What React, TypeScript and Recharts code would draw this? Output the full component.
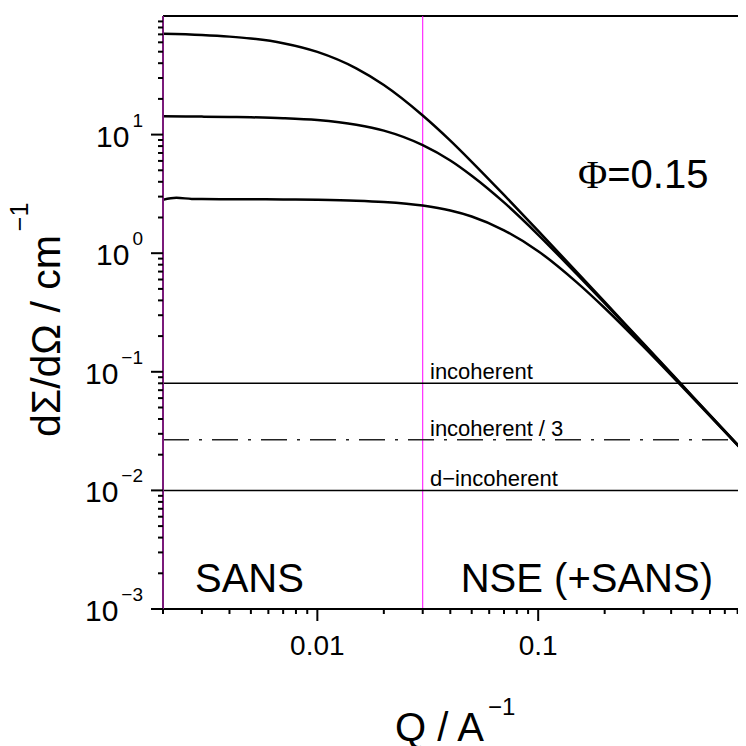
import React from 'react';
import { LineChart, Line, XAxis, YAxis, ReferenceLine } from 'recharts';

// values (Q in 1/A, intensity in 1/cm)
const phiLabel = 'Φ=0.15';

const curveHigh = [
  { q: 0.002, i: 70.7 }, { q: 0.003, i: 69.1 }, { q: 0.004, i: 67.0 },
  { q: 0.005, i: 64.6 }, { q: 0.007, i: 59.0 }, { q: 0.01, i: 49.8 },
  { q: 0.015, i: 36.2 }, { q: 0.02, i: 26.2 }, { q: 0.03, i: 14.5 },
  { q: 0.04, i: 8.9 }, { q: 0.05, i: 5.9 }, { q: 0.07, i: 3.1 },
  { q: 0.1, i: 1.54 }, { q: 0.15, i: 0.690 }, { q: 0.2, i: 0.388 },
  { q: 0.3, i: 0.173 }, { q: 0.5, i: 0.0622 }, { q: 0.873, i: 0.0204 },
];

const curveMid = [
  { q: 0.002, i: 14.25 }, { q: 0.003, i: 14.18 }, { q: 0.004, i: 14.1 },
  { q: 0.005, i: 14.0 }, { q: 0.007, i: 13.75 }, { q: 0.01, i: 13.25 },
  { q: 0.015, i: 12.1 }, { q: 0.02, i: 10.8 }, { q: 0.03, i: 8.15 },
  { q: 0.04, i: 6.05 }, { q: 0.05, i: 4.5 }, { q: 0.07, i: 2.68 },
  { q: 0.1, i: 1.43 }, { q: 0.15, i: 0.662 }, { q: 0.2, i: 0.379 },
  { q: 0.3, i: 0.170 }, { q: 0.5, i: 0.0616 }, { q: 0.873, i: 0.0203 },
];

const curveLow = [
  { q: 0.002, i: 2.82 }, { q: 0.0023, i: 2.93 }, { q: 0.0027, i: 2.87 },
  { q: 0.003, i: 2.86 }, { q: 0.004, i: 2.855 }, { q: 0.005, i: 2.85 },
  { q: 0.007, i: 2.84 }, { q: 0.01, i: 2.82 }, { q: 0.015, i: 2.77 },
  { q: 0.02, i: 2.70 }, { q: 0.03, i: 2.52 }, { q: 0.04, i: 2.29 },
  { q: 0.05, i: 2.04 }, { q: 0.07, i: 1.56 }, { q: 0.1, i: 1.04 },
  { q: 0.15, i: 0.565 }, { q: 0.2, i: 0.345 }, { q: 0.3, i: 0.163 },
  { q: 0.5, i: 0.0605 }, { q: 0.873, i: 0.0202 },
];

const incoherent = 0.08;
const incoherentThird = 0.0267;
const dIncoherent = 0.01;
const nseStart = 0.03;

const xDomain = [0.002, 0.873];
const yDomain = [0.001, 100];
const xDecades = [0.001, 0.01, 0.1];
const yDecades = [0.001, 0.01, 0.1, 1, 10];
const steps = [1, 2, 3, 4, 5, 6, 7, 8, 9];

const xTicks = xDecades
  .flatMap((d) => steps.map((s) => +(d * s).toPrecision(3)))
  .filter((v) => v >= xDomain[0] && v <= xDomain[1]);
const yTicks = yDecades.flatMap((d) => steps.map((s) => +(d * s).toPrecision(3)));

const FONT = '"Liberation Sans", Arial, sans-serif';

const isDecade = (v: number) => Math.abs(Math.log10(v) - Math.round(Math.log10(v))) < 1e-6;

const XTick = (props: any) => {
  const { x, y, payload } = props;
  const major = isDecade(payload.value);
  return (
    <g>
      <line x1={x} x2={x} y1={y} y2={y + (major ? 12 : 5)} stroke="#000" strokeWidth={2} />
      {major && (
        <text x={x} y={y + 46} textAnchor="middle" fontSize={28} fontFamily={FONT} fill="#000">
          {String(payload.value)}
        </text>
      )}
    </g>
  );
};

const YTick = (props: any) => {
  const { x, y, payload } = props;
  const major = isDecade(payload.value);
  const exp = Math.round(Math.log10(payload.value));
  return (
    <g>
      <line x1={x} x2={x - (major ? 12 : 5)} y1={y} y2={y} stroke="#000" strokeWidth={2} />
      {major && (
        <text x={x - 20} y={y + 12} textAnchor="end" fontSize={30} fontFamily={FONT} fill="#000">
          10
          <tspan dx={3} dy={-20} fontSize={19}>
            {exp < 0 ? '\u2212' + Math.abs(exp) : String(exp)}
          </tspan>
        </text>
      )}
    </g>
  );
};

const lineLabel = (text: string) => (props: any) => {
  const vb = props.viewBox || {};
  return (
    <text x={vb.x + 267} y={vb.y - 4} fontSize={22} fontFamily={FONT} fill="#000">
      {text}
    </text>
  );
};

// the chart box sits at the body's 8px offset; the plot reaches the window's right edge
export default function App() {
  return (
    <div style={{ position: 'relative', width: 738, height: 738, background: '#fff' }}>
      <LineChart width={738} height={738} margin={{ top: 8, right: 0, bottom: 0, left: 0 }}>
        <XAxis
          dataKey="q"
          type="number"
          scale="log"
          domain={xDomain}
          allowDataOverflow
          ticks={xTicks}
          interval={0}
          height={137}
          tickSize={0}
          tickMargin={0}
          tickLine={false}
          axisLine={{ stroke: '#000', strokeWidth: 2 }}
          tick={(p: any) => <XTick {...p} />}
        />
        <YAxis
          type="number"
          scale="log"
          domain={yDomain}
          allowDataOverflow
          ticks={yTicks}
          interval={0}
          width={155}
          tickSize={0}
          tickMargin={0}
          tickLine={false}
          axisLine={{ stroke: '#7a1a7a', strokeWidth: 2 }}
          tick={(p: any) => <YTick {...p} />}
        />
        <ReferenceLine y={100} stroke="#000" strokeWidth={2} />
        <ReferenceLine x={nseStart} stroke="#ff00ff" strokeWidth={1} />
        <ReferenceLine
          y={incoherent}
          stroke="#000"
          strokeWidth={1.5}
          label={{ content: lineLabel('incoherent') }}
        />
        <ReferenceLine
          y={incoherentThird}
          stroke="#222"
          strokeWidth={1.5}
          strokeDasharray="26 10 3 10"
          label={{ content: lineLabel('incoherent / 3') }}
        />
        <ReferenceLine
          y={dIncoherent}
          stroke="#000"
          strokeWidth={1.5}
          label={{ content: lineLabel('d\u2212incoherent') }}
        />
        <Line data={curveHigh} dataKey="i" type="monotone" stroke="#000" strokeWidth={2.5} dot={false} isAnimationActive={false} />
        <Line data={curveMid} dataKey="i" type="monotone" stroke="#000" strokeWidth={2.5} dot={false} isAnimationActive={false} />
        <Line data={curveLow} dataKey="i" type="monotone" stroke="#000" strokeWidth={2.5} dot={false} isAnimationActive={false} />
      </LineChart>
      <svg width={738} height={738} style={{ position: 'absolute', left: 0, top: 0, pointerEvents: 'none' }}>
        <g fontFamily={FONT} fill="#000">
          <text x={570} y={180} fontSize={40}>
            <tspan fontFamily='"Liberation Serif", "Times New Roman", serif'>{phiLabel.slice(0, 1)}</tspan>
            <tspan>{phiLabel.slice(1)}</tspan>
          </text>
          <text x={187} y={584} fontSize={40}>SANS</text>
          <text x={705} y={584} fontSize={40} textAnchor="end">NSE (+SANS)</text>
          <text x={387} y={733} fontSize={40}>
            Q / A
            <tspan dx={4} dy={-26} fontSize={24}>{'\u22121'}</tspan>
          </text>
          <text x={52} y={429} fontSize={41} transform="rotate(-90 52 429)">
            dΣ/dΩ / cm
            <tspan dx={4} dy={-32} fontSize={25}>{'\u22121'}</tspan>
          </text>
        </g>
      </svg>
    </div>
  );
}
